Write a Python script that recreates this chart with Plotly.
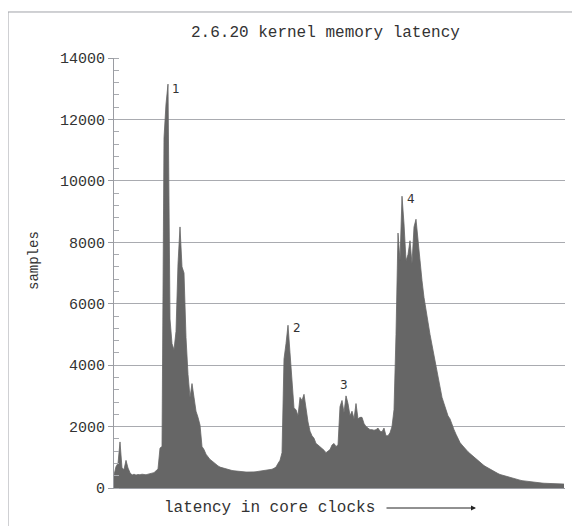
import plotly.graph_objects as go

# histogram bins (each bin = one latency bucket, left to right)
samples = [
    420, 700, 800, 1500, 650, 600, 900, 650, 500, 420,
    450, 420, 440, 430, 450, 440, 430, 450, 460, 470,
    500, 560, 620, 1300, 1350, 11400, 12500, 13150, 5500, 4700,
    4500, 5100, 7300, 8500, 7200, 7000, 4900, 3700, 2950, 3400,
    2850, 2500, 2300, 2050, 1350, 1250, 1100, 1000, 930, 880,
    820, 770, 720, 680, 660, 630, 620, 600, 580, 570,
    560, 550, 540, 535, 530, 525, 520, 520, 515, 520,
    525, 530, 540, 550, 555, 560, 570, 580, 590, 610,
    640, 680, 800, 900, 1150, 4200, 4700, 5300, 4400, 3400,
    2600, 2550, 2350, 2950, 2850, 3050, 2550, 2150, 1850, 1700,
    1620, 1450, 1400, 1350, 1300, 1230, 1150, 1200, 1250, 1400,
    1450, 1350, 1400, 2650, 2850, 2450, 3000, 2750, 2350, 2500,
    2250, 2750, 2250, 2300, 2300, 2100, 2000, 1950, 1900, 1900,
    1880, 1900, 1950, 1850, 1830, 1950, 1700, 1700, 1800, 2000,
    2550, 5000, 8300, 7400, 9500, 8600, 7400, 7600, 8050, 7300,
    8500, 8750, 8000, 7400, 6750, 6200, 5850, 5400, 5000, 4650,
    4250, 3900, 3550, 3250, 2950, 2750, 2550, 2350, 2250, 2050,
    1900, 1750, 1600, 1480, 1400, 1320, 1250, 1180, 1120, 1060,
    1000, 950, 880, 820, 780, 730, 690, 650, 610, 570,
    530, 500, 470, 440, 420, 390, 370, 350, 330, 310,
    300, 285, 270, 255, 240, 230, 220, 210, 200, 195,
    185, 180, 170, 165, 160, 155, 150, 148, 145, 142,
    140, 138, 135, 132, 130, 128,
]
bins = list(range(len(samples)))

peak_labels = ["1", "2", "3", "4"]
peak_bins = [31, 91.5, 115, 148.5]
peak_values = [12990, 5210, 3350, 9410]

y_ticks = [0, 2000, 4000, 6000, 8000, 10000, 12000, 14000]

title_text = "2.6.20 kernel memory latency"
x_label = "latency in core clocks"
y_label = "samples"

MONO = "Liberation Mono, Courier New, monospace"
TXT = "#333333"
GRID = "#a9abb0"

fig = go.Figure()
fig.add_trace(go.Scatter(
    x=bins, y=samples, mode="lines", fill="tozeroy",
    line=dict(color="#666666", width=0.8), fillcolor="#666666",
    hoverinfo="skip", showlegend=False,
))

for t, xb, yv in zip(peak_labels, peak_bins, peak_values):
    fig.add_annotation(x=xb, y=yv, text=t, showarrow=False,
                       font=dict(family="DejaVu Sans", size=12, color=TXT),
                       xanchor="center", yanchor="middle")

# page body has an 8px offset; plot area should sit at x 114..565, y 58..488 on screen
fig.update_layout(
    width=580, height=526,
    margin=dict(l=106, r=23, t=50, b=46),
    paper_bgcolor="white", plot_bgcolor="white",
    xaxis=dict(range=[0, 225.5], showgrid=False, zeroline=False,
               showline=True, linecolor="#9a9ca2", linewidth=1,
               showticklabels=False, ticks=""),
    yaxis=dict(range=[0, 14000], tickvals=y_ticks,
               ticktext=[str(v) for v in y_ticks],
               showgrid=True, gridcolor=GRID, gridwidth=1,
               zeroline=False, showline=True, linecolor="#9a9ca2", linewidth=1,
               ticks="outside", ticklen=5, tickcolor="#9a9ca2",
               minor=dict(dtick=400, ticks="inside", ticklen=5,
                          tickcolor="#a9abb0", showgrid=False),
               tickfont=dict(family=MONO, size=15, color=TXT)),
    shapes=[
        dict(type="line", xref="paper", yref="paper",
             x0=-0.235, x1=1.1, y0=1.107, y1=1.107,
             line=dict(color="#a0a2a8", width=1)),
        dict(type="line", xref="paper", yref="paper",
             x0=-0.235, x1=-0.235, y0=1.107, y1=-0.12,
             line=dict(color="#a0a2a8", width=1)),
    ],
)

fig.add_annotation(xref="paper", yref="paper", x=(325 - 114) / 451, y=(488 - 33) / 430,
                   text=title_text, showarrow=False,
                   font=dict(family=MONO, size=16, color=TXT),
                   xanchor="center", yanchor="middle")
fig.add_annotation(xref="paper", yref="paper", x=(269 - 114) / 451, y=(488 - 508) / 430,
                   text=x_label, showarrow=False,
                   font=dict(family=MONO, size=16, color=TXT),
                   xanchor="center", yanchor="middle")
fig.add_annotation(xref="paper", yref="paper", x=(476 - 114) / 451, y=(488 - 508) / 430,
                   text="", showarrow=True, ax=-91, ay=0,
                   arrowhead=2, arrowsize=1, arrowwidth=1, arrowcolor="#222222")
fig.add_annotation(xref="paper", yref="paper", x=(34 - 114) / 451, y=(488 - 261) / 430,
                   text=y_label, showarrow=False, textangle=-90,
                   font=dict(family=MONO, size=14, color=TXT),
                   xanchor="center", yanchor="middle")

fig.write_html("out.html")
